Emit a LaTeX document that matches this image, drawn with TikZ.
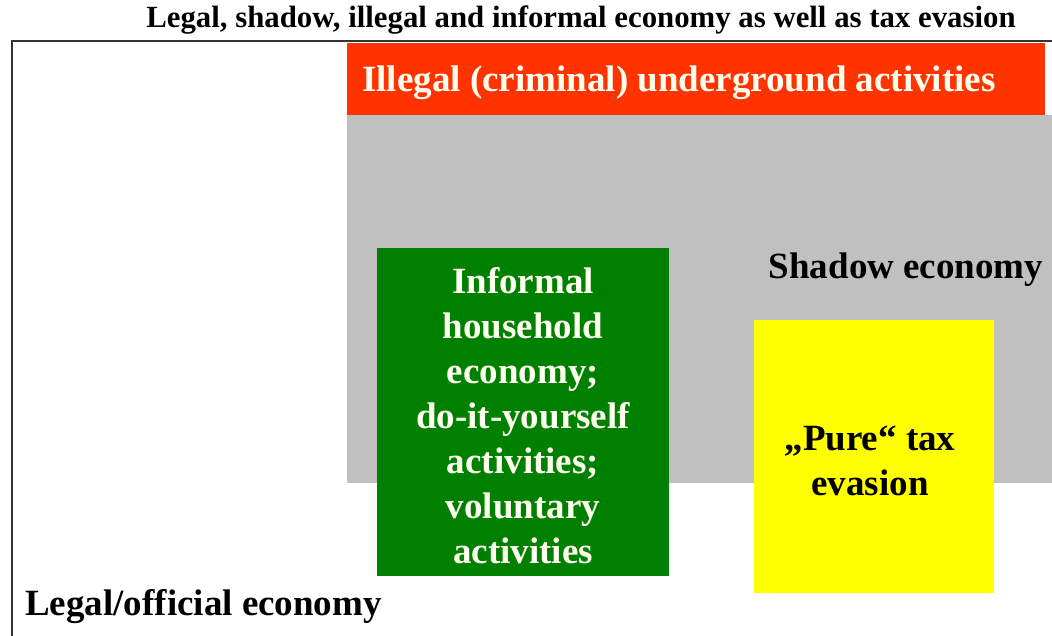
\documentclass[tikz,border=0pt]{standalone}
\usepackage{fontspec}
\setmainfont{Liberation Serif}
\definecolor{redbar}{HTML}{FF3300}
\definecolor{grayarea}{HTML}{C0C0C0}
\definecolor{greenbox}{HTML}{008000}
\definecolor{yellowbox}{HTML}{FFFF00}
\definecolor{cream}{HTML}{FFFFF0}
\definecolor{frameline}{HTML}{333333}
\tikzset{
  area/.style={inner sep=0pt, outer sep=0pt, anchor=north west},
  bigtext/.style={font=\fontsize{37}{45}\selectfont\bfseries},
  frame/.style={draw=frameline, line width=2pt},
}
\begin{document}
\begin{tikzpicture}[x=1pt,y=-1pt]
\useasboundingbox (0,0) rectangle (1052,636);
\fill[white] (0,0) rectangle (1052,636);
% title
\node[font=\fontsize{30.8}{36}\selectfont\bfseries] (title) at (581,20) {Legal, shadow, illegal and informal economy as well as tax evasion};
% gray shadow area
\node[area, fill=grayarea, minimum width=705pt, minimum height=368pt] (shadow) at (347,115) {};
% red bar
\node[area, fill=redbar, minimum width=698pt, minimum height=72pt] (illegal) at (347,43) {};
\node[bigtext, text=cream, anchor=west, inner sep=0pt] (illegaltext) at (362,83) {Illegal (criminal) underground activities};
% frame
\coordinate (tl) at (12,41);
\coordinate (tr) at (1052,41);
\coordinate (bl) at (12,636);
\draw[frame] (tr) -- (tl) -- (bl);
% shadow economy label
\node[bigtext, anchor=center] (shadowlabel) at (906,270) {Shadow economy};
% green box
\node[area, fill=greenbox, minimum width=292pt, minimum height=328pt] (informal) at (377,248) {};
\node[bigtext, text=cream, align=center] (informaltext) at (523,416) {Informal\\household\\economy;\\do-it-yourself\\activities;\\voluntary\\activities};
% yellow box
\node[area, fill=yellowbox, minimum width=240pt, minimum height=273pt] (pure) at (754,320) {};
\node[bigtext, align=center] (puretext) at (870,461) {„Pure“ tax\\evasion};
% legal economy
\node[bigtext, anchor=west, inner sep=0pt] (legal) at (25,607) {Legal/official economy};
\end{tikzpicture}
\end{document}
